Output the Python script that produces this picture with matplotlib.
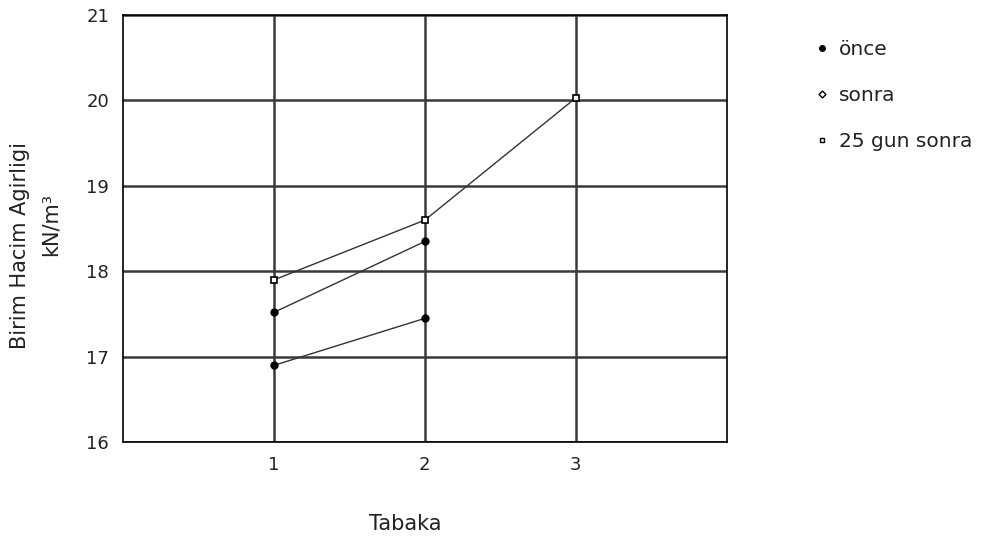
import matplotlib.pyplot as plt
from matplotlib.lines import Line2D

# unit weight per layer
tabaka_once = [1, 2]
once = [16.9, 17.45]
tabaka_sonra = [1, 2]
sonra = [17.52, 18.35]
tabaka_25 = [1, 2, 3]
gun25_sonra = [17.9, 18.6, 20.03]
labels = ['önce', 'sonra', '25 gun sonra']

fig = plt.figure(figsize=(10.08, 5.46), dpi=100)
ax = fig.add_axes([0.122, 0.19, 0.599, 0.7825])

ax.plot(tabaka_once, once, color='#333333', lw=1, marker='o', ms=5,
        mfc='black', mec='black')
ax.plot(tabaka_sonra, sonra, color='#333333', lw=1, marker='o', ms=5,
        mfc='black', mec='black')
ax.plot(tabaka_25, gun25_sonra, color='#333333', lw=1, marker='s', ms=4,
        mfc='white', mec='black', mew=1.2)

ax.set_xlim(0, 4)
ax.set_ylim(16, 21)
ax.set_xticks([1, 2, 3])
ax.set_yticks([16, 17, 18, 19, 20, 21])
ax.grid(True, color='#3a3a3a', lw=1.8)
ax.tick_params(length=0, labelsize=13, pad=10, colors='#222222')
for s in ax.spines.values():
    s.set_color('black')
    s.set_linewidth(1.2)

fig.text(0.402, 0.04, 'Tabaka', fontsize=15, ha='center', va='center',
         color='#222222')
fig.text(0.020, 0.551, 'Birim Hacim Agirligi', rotation=90, fontsize=15,
         ha='center', va='center', color='#222222')
fig.text(0.050, 0.588, 'kN/m³', rotation=90, fontsize=15,
         ha='center', va='center', color='#222222')

handles = [
    Line2D([], [], ls='none', marker='o', ms=4, mfc='black', mec='black'),
    Line2D([], [], ls='none', marker='D', ms=3.5, mfc='white', mec='black'),
    Line2D([], [], ls='none', marker='s', ms=3.5, mfc='white', mec='black'),
]
fig.legend(handles, labels, loc='upper left', bbox_to_anchor=(0.788, 0.96),
           frameon=False, fontsize=14.5, handletextpad=0.3, labelspacing=1.35,
           handlelength=1.0, labelcolor='#222222')

plt.savefig('out.png', dpi=100)
